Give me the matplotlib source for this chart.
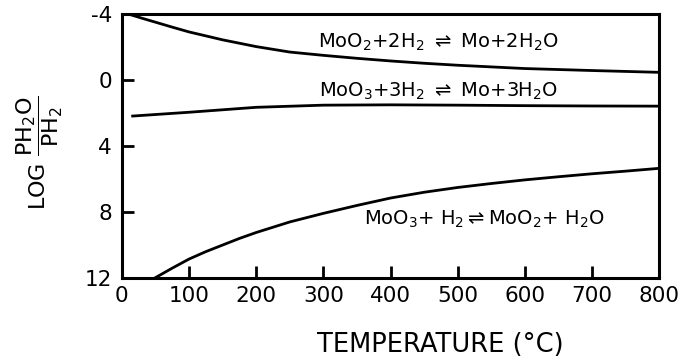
import matplotlib
matplotlib.use("Agg")
import matplotlib.pyplot as plt

# Data
t_moo2_mo = [10, 30, 50, 75, 100, 150, 200, 250, 300, 350, 400, 450, 500, 550, 600, 700, 800]
y_moo2_mo = [-4.0, -3.75, -3.51, -3.21, -2.92, -2.44, -2.03, -1.7, -1.5, -1.32, -1.16, -1.02,
             -0.9, -0.8, -0.7, -0.58, -0.47]

t_moo3_mo = [16, 100, 200, 300, 400, 500, 600, 700, 800]
y_moo3_mo = [2.18, 1.95, 1.65, 1.52, 1.5, 1.52, 1.55, 1.57, 1.58]

t_moo3_moo2 = [49, 75, 100, 125, 150, 175, 200, 250, 300, 350, 400, 450, 500, 550, 600, 650, 700, 750, 800]
y_moo3_moo2 = [12.0, 11.4, 10.85, 10.4, 10.0, 9.6, 9.24, 8.6, 8.08, 7.6, 7.15, 6.8, 6.51,
               6.27, 6.05, 5.86, 5.68, 5.52, 5.35]

x_ticks = [0, 100, 200, 300, 400, 500, 600, 700, 800]
y_ticks = [-4, 0, 4, 8, 12]
y_ticklabels = ["-4", "0", "4", "8", "12"]

labels = [r"MoO$_2$+2H$_2$ $\rightleftharpoons$ Mo+2H$_2$O",
          r"MoO$_3$+3H$_2$ $\rightleftharpoons$ Mo+3H$_2$O",
          r"MoO$_3$+ H$_2$$\rightleftharpoons$MoO$_2$+ H$_2$O"]

plt.rcParams['font.family'] = ['DejaVu Sans']
plt.rcParams['mathtext.default'] = 'regular'

fig = plt.figure(figsize=(6.81, 3.62), dpi=100)
ax = fig.add_axes([0.179, 0.232, 0.789, 0.729])

lw = 2.0
ax.plot(t_moo2_mo, y_moo2_mo, color='black', lw=lw)
ax.plot(t_moo3_mo, y_moo3_mo, color='black', lw=lw)
ax.plot(t_moo3_moo2, y_moo3_moo2, color='black', lw=lw)

ax.set_xlim(0, 800)
ax.set_ylim(12, -4)
ax.set_xticks(x_ticks)
ax.set_xticklabels([str(v) for v in x_ticks])
ax.set_yticks(y_ticks)
ax.set_yticklabels(y_ticklabels)

for s in ax.spines.values():
    s.set_linewidth(2.2)

ax.tick_params(axis='both', direction='in', length=8.5, width=2, labelsize=15.5)
ax.tick_params(axis='x', pad=6)
ax.tick_params(axis='y', pad=7)

ax.text(471, -2.3, labels[0], fontsize=14, ha='center', va='center')
ax.text(471, 0.67, labels[1], fontsize=14, ha='center', va='center')
ax.text(540, 8.45, labels[2], fontsize=14, ha='center', va='center')

fig.text(440 / 681, 1 - 345 / 362, "TEMPERATURE (°C)", fontsize=18.5,
         ha='center', va='center')
fig.text(40 / 681, 1 - 153 / 362,
         r"LOG $\dfrac{\mathrm{PH_2O}}{\mathrm{PH_2}}$", fontsize=16,
         rotation=90, ha='center', va='center')

fig.savefig("out.png", dpi=100)
